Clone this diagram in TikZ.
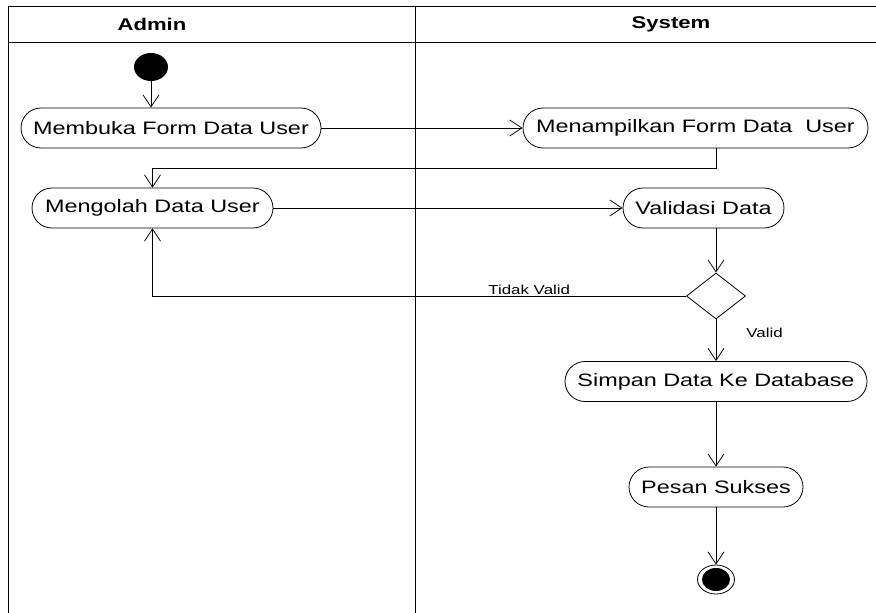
\documentclass[tikz,border=0pt]{standalone}
\usepackage{fontspec}
\setmainfont{Liberation Sans}
\usepackage{graphicx}
\usepackage{tikz}
\usetikzlibrary{shapes,arrows.meta}
\newcommand{\wtxt}[1]{\scalebox{1.3}[1]{#1}}
\tikzstyle{act} = [rectangle, rounded corners=20pt, draw=black, line width=0.8pt, minimum height=40pt, inner sep=0pt, font=\fontsize{18}{20}\selectfont]
\tikzstyle{arrow} = [line width=0.8pt,->,>={Straight Barb[length=12pt,width=16pt]}]
\tikzstyle{lane} = [line width=1pt]
\tikzstyle{lbl} = [font=\fontsize{13}{15}\selectfont, inner sep=1pt]
\tikzstyle{head} = [font=\fontsize{17}{19}\selectfont\bfseries]

\begin{document}
\begin{tikzpicture}[x=1pt, y=-1pt]
    \useasboundingbox (0,0) rectangle (876,613);

    % swimlanes
    \draw[lane] (8,613) -- (8,6) -- (876,6);
    \draw[lane] (8,42) -- (876,42);
    \draw[lane] (415,6) -- (415,613);
    \node (adm) [head] at (152,24) {\wtxt{Admin}};
    \node (sys) [head] at (671,24) {\wtxt{System}};

    \node (s) [ellipse, fill=black, minimum width=34pt, minimum height=28pt, inner sep=0pt] at (151,67) {};
    \node (a1) [act, minimum width=300pt] at (171,128) {\wtxt{Membuka Form Data User}};
    \node (b1) [act, minimum width=345pt] at (695.5,128) {\wtxt{Menampilkan Form Data~ User}};
    \node (a2) [act, minimum width=241pt] at (152.5,208) {\wtxt{Mengolah Data User}};
    \node (b2) [act, minimum width=161pt] at (703.5,208) {\wtxt{Validasi Data}};
    \node (d) [diamond, draw, line width=0.8pt, minimum width=59pt, minimum height=46pt, inner sep=0pt] at (716,296) {};
    \node (b3) [act, minimum width=302pt] at (716,381.5) {\wtxt{Simpan Data Ke Database}};
    \node (b4) [act, minimum width=174pt] at (716,487) {\wtxt{Pesan Sukses}};
    \node (e) [ellipse, draw, line width=0.8pt, minimum width=37pt, minimum height=29pt, inner sep=0pt] at (716,579.5) {};
    \fill (e.center) ellipse (14pt and 11.5pt);

    \draw [arrow] (s) -- (s |- a1.north);
    \draw [arrow] (a1) -- (b1);
    \draw [arrow] (b1.south -| d.north) -- ++(0,20) -| (a2.north);
    \draw [arrow] (a2) -- (b2);
    \draw [arrow] (b2.south -| d.north) -- (d.north);
    \draw [arrow] (d.west) -| node[lbl, pos=0.147, above] {\wtxt{Tidak Valid}} (a2.south);
    \draw [arrow] (d.south) -- node[lbl, pos=0.33, anchor=west, xshift=29pt] {\wtxt{Valid}} (b3.north);
    \draw [arrow] (b3) -- (b4);
    \draw [arrow] (b4) -- (e);

\end{tikzpicture}
\end{document}
